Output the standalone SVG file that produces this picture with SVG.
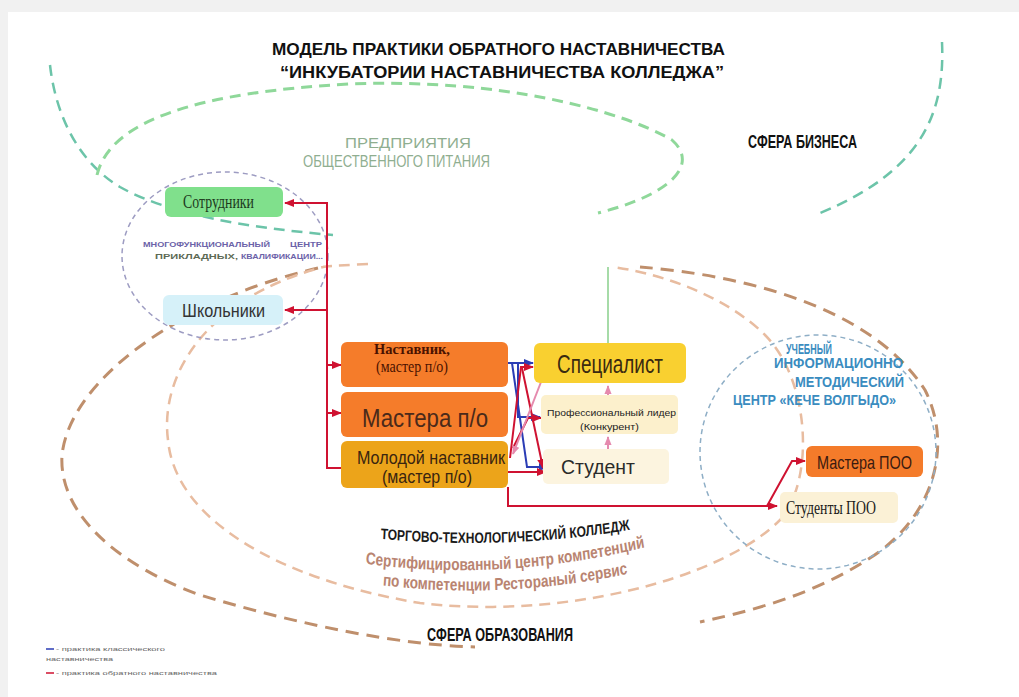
<svg xmlns="http://www.w3.org/2000/svg" width="1019" height="697" viewBox="0 0 1019 697">
<defs>
<style>
.t{font-family:"Liberation Sans","DejaVu Sans",sans-serif;}
.s{font-family:"Liberation Serif","DejaVu Serif",serif;}
.b{font-weight:bold;}
.teal{fill:none;stroke:#6cc4a9;stroke-width:2.5;stroke-dasharray:11 7;}
.lg{fill:none;stroke:#8fd89a;stroke-width:3;stroke-dasharray:11 7;}
.edi{fill:none;stroke:#e8bca0;stroke-width:2.5;stroke-dasharray:11 7;}
.edo{fill:none;stroke:#bf8f6c;stroke-width:3;stroke-dasharray:13 8;}
.circ{fill:none;stroke:#9d9cc2;stroke-width:1.5;stroke-dasharray:5 4;}
.bcirc{fill:none;stroke:#8eaec6;stroke-width:1.5;stroke-dasharray:5 4;}
.red{fill:none;stroke:#cf1231;stroke-width:2;}
.blue{fill:none;stroke:#2b3db5;stroke-width:2;}
.pink{fill:none;stroke:#e58aae;stroke-width:2;}
</style>
<marker id="arR" viewBox="0 0 10 10" refX="9" refY="5" markerWidth="10" markerHeight="10" markerUnits="userSpaceOnUse" orient="auto"><path d="M0,1 L10,5 L0,9 z" fill="#cf1231"/></marker>
<marker id="arB" viewBox="0 0 10 10" refX="9" refY="5" markerWidth="10" markerHeight="10" markerUnits="userSpaceOnUse" orient="auto"><path d="M0,1 L10,5 L0,9 z" fill="#2b3db5"/></marker>
<marker id="arP" viewBox="0 0 10 10" refX="9" refY="5" markerWidth="9" markerHeight="9" markerUnits="userSpaceOnUse" orient="auto"><path d="M0,1 L10,5 L0,9 z" fill="#e58aae"/></marker>
<path id="arc1" d="M412.5,533 Q637.5,558 850,520"/>
<path id="arc2" d="M412.5,558 Q625,590 850,538"/>
<path id="arc3" d="M425,579 Q625,608 837.5,564"/>
</defs>

<rect x="0" y="0" width="1019" height="697" fill="#f1f1f1"/>
<rect x="8" y="12" width="1011" height="685" fill="#ffffff"/>

<g id="spheres">
<path class="teal" d="M50,65 C55,110 75,160 120,187 C170,215 250,228 333,235"/>
<path class="teal" d="M942,42 C945,110 925,170 820,213"/>
<path class="lg" d="M97,175 C110,120 200,92 350,84 C500,78 620,110 672,140 C700,165 670,195 598,213"/>
<path class="edo" d="M318,268 C180,300 70,380 62,455 C58,520 130,570 200,595 C300,625 400,645 475,647"/>
<path class="edo" d="M640,267 C740,275 870,305 925,390 C955,450 930,520 870,558 C820,590 770,607 700,622"/>
<path class="edi" d="M368,264 C330,266 326,266 323,267 C200,300 160,380 168,440 C175,520 280,580 420,603 C560,620 720,580 780,520 C815,480 810,380 765,335 C730,300 670,275 613,267"/>
<ellipse class="circ" cx="225" cy="256" rx="103" ry="84"/>
<ellipse class="bcirc" cx="818" cy="452" rx="118" ry="117"/>
</g>

<g id="titles">
<text class="t b" x="272" y="55" font-size="17" textLength="453" lengthAdjust="spacingAndGlyphs" fill="#111">МОДЕЛЬ ПРАКТИКИ ОБРАТНОГО НАСТАВНИЧЕСТВА</text>
<text class="t b" x="280" y="78" font-size="16" textLength="444" lengthAdjust="spacingAndGlyphs" fill="#111">“ИНКУБАТОРИИ НАСТАВНИЧЕСТВА КОЛЛЕДЖА”</text>
<text class="t b" x="748" y="148" font-size="19" textLength="109" lengthAdjust="spacingAndGlyphs" fill="#111">СФЕРА БИЗНЕСА</text>
<text class="t" x="345" y="148" font-size="15" textLength="126" lengthAdjust="spacingAndGlyphs" fill="#8fae90">ПРЕДПРИЯТИЯ</text>
<text class="t" x="303" y="167" font-size="16" textLength="187" lengthAdjust="spacingAndGlyphs" fill="#8fae90">ОБЩЕСТВЕННОГО ПИТАНИЯ</text>
<text class="t b" x="143" y="247" font-size="8" textLength="127" lengthAdjust="spacingAndGlyphs" fill="#6b62a8">МНОГОФУНКЦИОНАЛЬНЫЙ</text>
<text class="t b" x="290" y="247" font-size="8" textLength="32" lengthAdjust="spacingAndGlyphs" fill="#6b62a8">ЦЕНТР</text>
<text class="t b" x="155" y="259" font-size="8" textLength="83" lengthAdjust="spacingAndGlyphs" fill="#5d6a55">ПРИКЛАДНЫХ,</text>
<text class="t b" x="241" y="259" font-size="8" textLength="82" lengthAdjust="spacingAndGlyphs" fill="#6b62a8">КВАЛИФИКАЦИИ...</text>
<text class="t b" x="786" y="354" font-size="15" textLength="46" lengthAdjust="spacingAndGlyphs" fill="#3a8cbf">УЧЕБНЫЙ</text>
<text class="t b" x="774" y="368" font-size="15" textLength="129" lengthAdjust="spacingAndGlyphs" fill="#3a8cbf">ИНФОРМАЦИОННО</text>
<text class="t b" x="795" y="387" font-size="15" textLength="109" lengthAdjust="spacingAndGlyphs" fill="#3a8cbf">МЕТОДИЧЕСКИЙ</text>
<text class="t b" x="733" y="405" font-size="15" textLength="163" lengthAdjust="spacingAndGlyphs" fill="#3a8cbf">ЦЕНТР «КЕЧЕ ВОЛГЫДО»</text>
<g transform="scale(0.8,1)">
<text class="t b" font-size="15" fill="#1a1a1a"><textPath href="#arc1" startOffset="50%" text-anchor="middle">ТОРГОВО-ТЕХНОЛОГИЧЕСКИЙ КОЛЛЕДЖ</textPath></text>
<text class="t b" font-size="17" fill="#b98471"><textPath href="#arc2" startOffset="50%" text-anchor="middle">Сертифицированный центр компетенций</textPath></text>
<text class="t b" font-size="17" fill="#b98471"><textPath href="#arc3" startOffset="50%" text-anchor="middle">по компетенции Рестор&#1072;ный сервис</textPath></text>
</g>
<text class="t b" x="427" y="641" font-size="18" textLength="146" lengthAdjust="spacingAndGlyphs" fill="#111">СФЕРА ОБРАЗОВАНИЯ</text>
</g>

<g id="connectors">
<line x1="608" y1="343" x2="608" y2="267" stroke="#a6dba8" stroke-width="2"/>
<path class="red" d="M341,468 H327 V203 H285" marker-end="url(#arR)"/>
<path class="red" d="M327,310 H285" marker-end="url(#arR)"/>
<path class="red" d="M327,365 H341" marker-end="url(#arR)"/>
<path class="red" d="M327,413 H341" marker-end="url(#arR)"/>
<path class="red" d="M508,487 V506 H777" marker-end="url(#arR)"/>
<path class="red" d="M767,506 L792,461 H805" marker-end="url(#arR)"/>
<path class="blue" d="M508,363 H533" marker-end="url(#arB)"/>
<path class="blue" d="M512,363 L527,467 H548" marker-end="url(#arB)"/>
<path class="blue" d="M518,363 V417 H540" marker-end="url(#arB)"/>
<path class="red" d="M510,458 L521,367 H533" marker-end="url(#arR)"/>
<path class="red" d="M522,368 L543,468" marker-end="url(#arR)"/>
<path class="red" d="M508,472 H546" marker-end="url(#arR)"/>
<path class="red" d="M513,448 L528,418 H541" marker-end="url(#arR)"/>
<path class="pink" d="M541,382 L513,454" marker-end="url(#arP)"/>
<path class="pink" d="M608,398 V386" marker-end="url(#arP)"/>
<path class="pink" d="M608,449 V437" marker-end="url(#arP)"/>
</g>

<g id="node-sotrudniki">
<rect x="165" y="187" width="118" height="30" rx="6" fill="#80e08c"/>
<text class="s" x="183" y="208" font-size="19" textLength="71" lengthAdjust="spacingAndGlyphs" fill="#1d3a1d">Сотрудники</text>
</g>
<g id="node-shkolniki">
<rect x="163" y="295" width="120" height="30" rx="6" fill="#d6f1f9"/>
<text class="t" x="182" y="317" font-size="19" textLength="83" lengthAdjust="spacingAndGlyphs" fill="#333">Школьники</text>
</g>
<g id="node-nastavnik">
<rect x="341" y="342" width="167" height="45" rx="6" fill="#f57c2a"/>
<text class="s b" x="374" y="354" font-size="14" textLength="76" lengthAdjust="spacingAndGlyphs" fill="#4a1200">Наставник,</text>
<text class="s" x="376" y="372" font-size="17" textLength="72" lengthAdjust="spacingAndGlyphs" fill="#4a1200">(мастер п/о)</text>
</g>
<g id="node-mastera">
<rect x="341" y="392" width="167" height="45" rx="6" fill="#f57c2a"/>
<text class="t" x="362" y="427" font-size="25" textLength="126" lengthAdjust="spacingAndGlyphs" fill="#4a2a1a">Мастера п/о</text>
</g>
<g id="node-molodoy">
<rect x="341" y="441" width="167" height="47" rx="6" fill="#eca41a"/>
<text class="t" x="357" y="464" font-size="19" textLength="148" lengthAdjust="spacingAndGlyphs" fill="#3a2510">Молодой наставник</text>
<text class="t" x="382" y="483" font-size="19" textLength="90" lengthAdjust="spacingAndGlyphs" fill="#3a2510">(мастер п/о)</text>
</g>
<g id="node-specialist">
<rect x="534" y="343" width="152" height="40" rx="6" fill="#f9d030"/>
<text class="t" x="557" y="373" font-size="26" textLength="106" lengthAdjust="spacingAndGlyphs" fill="#3a2a10">Специалист</text>
</g>
<g id="node-lider">
<rect x="541" y="395" width="137" height="39" rx="5" fill="#fcf0cc"/>
<text class="t" x="547" y="416" font-size="9" textLength="129" lengthAdjust="spacingAndGlyphs" fill="#222">Профессиональный лидер</text>
<text class="t" x="580" y="430" font-size="9" textLength="59" lengthAdjust="spacingAndGlyphs" fill="#222">(Конкурент)</text>
</g>
<g id="node-student">
<rect x="543" y="449" width="126" height="35" rx="5" fill="#fcf4df"/>
<text class="t" x="561" y="474" font-size="21" textLength="74" lengthAdjust="spacingAndGlyphs" fill="#2a2a2a">Студент</text>
</g>
<g id="node-mastera-poo">
<rect x="806" y="446" width="117" height="31" rx="6" fill="#f47b2a"/>
<text class="t" x="817" y="469" font-size="19" textLength="95" lengthAdjust="spacingAndGlyphs" fill="#3a1a10">Мастера ПОО</text>
</g>
<g id="node-studenty-poo">
<rect x="780" y="492" width="118" height="31" rx="5" fill="#fbf1d6"/>
<text class="s" x="786" y="514" font-size="18" textLength="90" lengthAdjust="spacingAndGlyphs" fill="#1a1a1a">Студенты ПОО</text>
</g>

<g id="legend">
<line x1="46" y1="649" x2="54" y2="649" stroke="#2b3db5" stroke-width="1.5"/>
<text class="t" x="56" y="651" font-size="6" textLength="109" lengthAdjust="spacingAndGlyphs" fill="#666">- практика классического</text>
<text class="t" x="46" y="661" font-size="6" textLength="67" lengthAdjust="spacingAndGlyphs" fill="#666">наставничества</text>
<line x1="46" y1="673" x2="54" y2="673" stroke="#cf1231" stroke-width="1.5"/>
<text class="t" x="56" y="675" font-size="6" textLength="161" lengthAdjust="spacingAndGlyphs" fill="#666">- практика обратного наставничества</text>
</g>
</svg>
